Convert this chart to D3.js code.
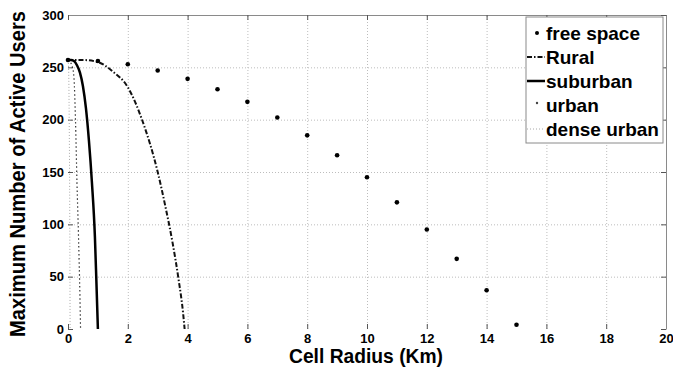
<!DOCTYPE html>
<html>
<head>
<meta charset="utf-8">
<script src="https://cdn.jsdelivr.net/npm/d3@7"></script>
<style>
  body { margin: 0; background: #fff; }
  svg { display: block; font-family: "Liberation Sans", Arial, sans-serif; font-weight: bold; }
</style>
</head>
<body>
<svg id="chart" width="673" height="369"></svg>
<script>
// axis ticks
var xTicks = [0, 2, 4, 6, 8, 10, 12, 14, 16, 18, 20];
var yTicks = [0, 50, 100, 150, 200, 250, 300];

// free space (markers only)
var freeR = [0, 1, 2, 3, 4, 5, 6, 7, 8, 9, 10, 11, 12, 13, 14, 15];
var freeUsers = [257, 256, 253, 247, 239, 229, 217, 202, 185, 166, 145, 121, 95, 67, 37, 4];

// Rural
var ruralR = [0, 0.5, 1.0, 1.5, 2.0, 2.5, 3.0, 3.25, 3.5, 3.7, 3.85, 3.9];
var ruralUsers = [257, 257, 255, 246, 231, 198, 150, 118, 82, 47, 15, 0];

// suburban
var suburbR = [0, 0.1, 0.2, 0.3, 0.4, 0.5, 0.6, 0.7, 0.8, 0.9, 0.95, 1.0];
var suburbUsers = [257, 257, 256, 252, 245, 232, 211, 180, 140, 88, 45, 0];

// urban
var urbanR = [0, 0.05, 0.1, 0.15, 0.2, 0.25, 0.3, 0.35, 0.4, 0.42];
var urbanUsers = [257, 256, 254, 250, 240, 200, 140, 90, 30, 0];

// dense urban
var denseR = [0, 0.02, 0.04, 0.06, 0.07];
var denseUsers = [257, 250, 200, 100, 0];

var legendLabels = ["free space", "Rural", "suburban", "urban", "dense urban"];

var svg = d3.select("#chart");
// plot box in pixels ("top" is taken by window.top)
var plotLeft = 68, plotRight = 666, plotTop = 15, plotBottom = 329;

var x = d3.scaleLinear().domain([0, 20]).range([plotLeft, plotRight]);
var y = d3.scaleLinear().domain([0, 300]).range([plotBottom, plotTop]);

function zip(a, b) {
  return a.map(function(v, i) { return [v, b[i]]; });
}

// grid lines (interior only)
svg.append("g")
  .attr("class", "grid")
  .attr("transform", "translate(0," + plotBottom + ")")
  .call(d3.axisBottom(x).tickValues(xTicks.slice(1, -1)).tickSize(-(plotBottom - plotTop)).tickFormat(""))
  .call(function(g) { g.select(".domain").remove(); });

svg.append("g")
  .attr("class", "grid")
  .attr("transform", "translate(" + plotLeft + ",0)")
  .call(d3.axisLeft(y).tickValues(yTicks.slice(1, -1)).tickSize(-(plotRight - plotLeft)).tickFormat(""))
  .call(function(g) { g.select(".domain").remove(); });

svg.selectAll(".grid line")
  .attr("stroke", "#bdbdbd")
  .attr("stroke-width", 1)
  .attr("stroke-dasharray", "1,2");

// axes: labels on bottom/left, box lines only on top/right
var xAxis = svg.append("g")
  .attr("transform", "translate(0," + plotBottom + ")")
  .call(d3.axisBottom(x).tickValues(xTicks).tickSize(-5).tickSizeOuter(0).tickPadding(5));
xAxis.select(".domain").remove();

var yAxis = svg.append("g")
  .attr("transform", "translate(" + plotLeft + ",0)")
  .call(d3.axisLeft(y).tickValues(yTicks).tickSize(-5).tickSizeOuter(0).tickPadding(4));
yAxis.select(".domain").remove();

var topAxis = svg.append("g")
  .attr("transform", "translate(0," + plotTop + ")")
  .call(d3.axisTop(x).tickValues(xTicks).tickSize(-5).tickSizeOuter(0).tickFormat(""));

var rightAxis = svg.append("g")
  .attr("transform", "translate(" + plotRight + ",0)")
  .call(d3.axisRight(y).tickValues(yTicks).tickSize(-5).tickSizeOuter(0).tickFormat(""));

[xAxis, yAxis, topAxis, rightAxis].forEach(function(g) {
  g.selectAll("line").attr("stroke", "#555");
  g.selectAll(".domain").attr("stroke", "#8a8a8a");
  g.selectAll("text")
    .attr("fill", "#000")
    .style("font-size", "13px")
    .style("font-weight", "bold")
    .style("font-family", "'Liberation Sans', Arial, sans-serif");
});

// series lines
var line = d3.line()
  .x(function(d) { return x(d[0]); })
  .y(function(d) { return y(d[1]); })
  .curve(d3.curveMonotoneX);

var series = [
  {r: denseR, u: denseUsers, stroke: "#a8a8a8", width: 1, dash: "1,2"},
  {r: urbanR, u: urbanUsers, stroke: "#333", width: 1.2, dash: "1.5,2.5"},
  {r: ruralR, u: ruralUsers, stroke: "#111", width: 2, dash: "5,2,1.5,2"},
  {r: suburbR, u: suburbUsers, stroke: "#000", width: 2.5, dash: null}
];

svg.append("g").selectAll("path")
  .data(series)
  .enter().append("path")
  .attr("d", function(d) { return line(zip(d.r, d.u)); })
  .attr("fill", "none")
  .attr("stroke", function(d) { return d.stroke; })
  .attr("stroke-width", function(d) { return d.width; })
  .attr("stroke-dasharray", function(d) { return d.dash; });

svg.append("g").selectAll("circle")
  .data(zip(freeR, freeUsers))
  .enter().append("circle")
  .attr("cx", function(d) { return x(d[0]); })
  .attr("cy", function(d) { return y(d[1]); })
  .attr("r", 2.3)
  .attr("fill", "#000");

// axis titles
svg.append("text")
  .attr("x", (plotLeft + plotRight) / 2 - 1)
  .attr("y", 363)
  .attr("text-anchor", "middle")
  .attr("textLength", 154)
  .attr("lengthAdjust", "spacingAndGlyphs")
  .style("font-size", "20px")
  .text("Cell Radius (Km)");

svg.append("text")
  .attr("transform", "translate(25,174) rotate(-90)")
  .attr("text-anchor", "middle")
  .attr("textLength", 326)
  .attr("lengthAdjust", "spacingAndGlyphs")
  .style("font-size", "22px")
  .text("Maximum Number of Active Users");

// legend
var lgX = 526, lgY = 17, lgW = 137, lgH = 126, rowH = 24;
var legend = svg.append("g");
legend.append("rect")
  .attr("x", lgX).attr("y", lgY)
  .attr("width", lgW).attr("height", lgH)
  .attr("fill", "#fff")
  .attr("stroke", "#8a8a8a");

var rows = legend.selectAll(".row")
  .data(legendLabels)
  .enter().append("g")
  .attr("class", "row")
  .attr("transform", function(d, i) { return "translate(" + lgX + "," + (lgY + 16 + i * rowH) + ")"; });

rows.append("text")
  .attr("x", 20)
  .attr("y", 6.5)
  .style("font-size", "19px")
  .text(function(d) { return d; });

rows.each(function(d, i) {
  var g = d3.select(this);
  if (i === 0) {
    g.append("circle").attr("cx", 11).attr("cy", 0).attr("r", 2).attr("fill", "#000");
  } else if (i === 3) {
    g.append("circle").attr("cx", 11).attr("cy", -2).attr("r", 1.2).attr("fill", "#444");
  } else {
    var s = [null, series[2], series[3], null, series[0]][i];
    g.append("line")
      .attr("x1", 1).attr("x2", 19).attr("y1", 0).attr("y2", 0)
      .attr("stroke", s.stroke)
      .attr("stroke-width", s.width)
      .attr("stroke-dasharray", s.dash);
  }
});
</script>
</body>
</html>
